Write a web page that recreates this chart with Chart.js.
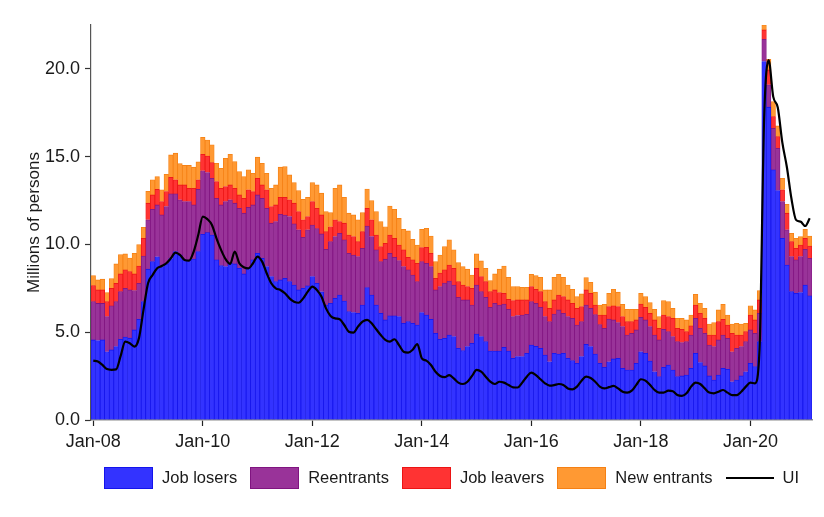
<!DOCTYPE html>
<html>
<head>
<meta charset="utf-8">
<title>Unemployed persons by reason and UI recipients</title>
<script src="https://cdn.jsdelivr.net/npm/chart.js@4.4.1/dist/chart.umd.min.js"></script>
<style>
  html, body { margin: 0; padding: 0; background: #fff; }
  #wrap { position: relative; width: 824px; height: 517px; }
  #chart { position: absolute; left: 0; top: 0; }
  #legend {
    position: absolute; left: 104px; top: 466px; height: 23px;
    display: flex; align-items: center; white-space: nowrap;
    font-family: "Liberation Sans", Arial, sans-serif; font-size: 16.5px; color: #1a1a1a;
  }
  .item { display: flex; align-items: center; margin-right: 13px; flex: none; }
  .swatch { width: 49px; height: 22px; box-sizing: border-box; border: 1px solid; margin-right: 9px; flex: none; }
  .stroke { width: 48px; height: 0; border-top: 2.5px solid #000; margin-right: 9px; flex: none; }
</style>
</head>
<body>
<div id="wrap">
  <canvas id="chart" width="824" height="517"></canvas>
  <div id="legend"></div>
</div>
<script>
// Monthly data, Jan-08 .. Feb-21, millions of persons
const jobLosers = [
  4.56, 4.53, 4.56, 3.89, 3.99, 4.18, 4.60, 4.72, 4.66, 5.13, 5.74, 6.74,
  8.59, 9.02, 9.30, 8.74, 8.89, 9.20, 9.59, 9.40, 9.12, 9.10, 9.17, 9.59,
  10.58, 10.67, 10.54, 9.12, 8.79, 8.74, 8.93, 8.89, 8.64, 8.32, 8.64, 9.12,
  9.50, 9.21, 8.74, 8.17, 7.88, 7.98, 8.07, 7.88, 7.69, 7.41, 7.50, 7.64,
  8.17, 7.79, 7.30, 6.55, 6.65, 6.93, 7.12, 6.78, 6.17, 6.12, 6.08, 6.55,
  7.54, 7.12, 6.55, 6.08, 5.70, 5.93, 5.93, 5.89, 5.51, 5.60, 5.51, 5.41,
  6.12, 5.98, 5.74, 4.94, 4.60, 4.65, 4.84, 4.75, 4.08, 3.95, 4.18, 4.37,
  4.90, 4.75, 4.46, 3.93, 3.93, 3.93, 4.14, 3.93, 3.51, 3.61, 3.61, 3.80,
  4.27, 4.20, 4.08, 3.70, 3.32, 3.80, 3.76, 3.80, 3.51, 3.38, 3.23, 3.61,
  4.31, 4.18, 3.76, 3.23, 3.00, 3.32, 3.48, 3.51, 2.94, 2.85, 2.85, 3.23,
  3.89, 3.80, 3.36, 2.75, 2.47, 3.00, 3.13, 2.85, 2.47, 2.51, 2.56, 2.94,
  3.80, 3.27, 3.08, 2.51, 2.28, 2.56, 2.94, 2.89, 2.18, 2.28, 2.51, 2.75,
  3.23, 3.04, 4.46, 20.42, 17.82, 14.25, 13.07, 10.35, 8.83, 7.31, 7.22, 7.26,
  7.69, 7.07
];

const reentrants = [
  2.18, 2.11, 2.08, 2.00, 2.51, 2.56, 2.71, 2.78, 2.75, 2.24, 2.05, 2.60,
  2.81, 2.98, 2.95, 2.94, 3.27, 3.68, 3.29, 3.14, 3.32, 3.34, 3.08, 3.55,
  3.62, 3.43, 3.23, 3.51, 3.46, 3.70, 3.61, 3.46, 3.42, 3.46, 3.48, 3.13,
  3.32, 3.42, 3.32, 3.04, 3.42, 3.74, 3.60, 3.71, 3.48, 3.42, 2.91, 3.19,
  2.94, 3.11, 3.30, 3.17, 3.51, 3.52, 3.52, 3.48, 3.33, 3.28, 3.23, 3.23,
  3.51, 3.33, 3.14, 2.94, 3.46, 3.57, 3.34, 3.19, 3.23, 2.95, 2.75, 2.47,
  2.90, 2.95, 3.00, 2.47, 3.00, 3.15, 3.08, 2.94, 2.91, 2.89, 2.66, 2.18,
  2.79, 2.56, 2.53, 2.49, 2.72, 2.62, 2.46, 2.38, 2.38, 2.34, 2.37, 2.22,
  2.47, 2.45, 2.34, 2.19, 2.28, 2.24, 2.51, 2.28, 2.38, 2.41, 2.18, 1.99,
  2.24, 2.18, 2.24, 2.20, 2.22, 2.43, 2.22, 2.04, 2.38, 1.99, 2.09, 1.90,
  1.96, 1.90, 1.96, 2.09, 2.09, 2.17, 1.90, 1.90, 1.99, 1.90, 1.90, 1.90,
  1.99, 1.95, 1.86, 1.76, 1.90, 2.00, 1.90, 1.76, 1.71, 1.80, 1.67, 1.71,
  1.90, 1.90, 1.62, 1.27, 1.27, 2.37, 2.41, 2.09, 2.00, 2.00, 1.90, 2.05,
  2.03, 2.14
];

const jobLeavers = [
  0.91, 0.77, 0.77, 0.85, 1.00, 1.05, 1.01, 1.05, 1.04, 0.95, 0.98, 1.01,
  0.95, 0.82, 0.89, 0.76, 0.85, 0.95, 0.80, 0.85, 0.95, 0.76, 0.95, 0.54,
  0.94, 0.94, 0.89, 0.95, 0.95, 0.86, 0.85, 0.85, 0.76, 0.85, 0.99, 0.76,
  0.95, 0.76, 1.05, 0.95, 0.95, 0.97, 1.02, 0.95, 1.18, 1.04, 0.99, 0.76,
  1.33, 1.16, 1.08, 1.01, 0.85, 0.95, 0.66, 0.95, 1.04, 1.05, 0.85, 0.95,
  1.01, 0.95, 0.85, 0.86, 0.91, 1.04, 1.08, 0.89, 0.95, 0.72, 0.86, 1.05,
  0.80, 0.91, 0.76, 0.66, 0.77, 0.75, 0.91, 0.95, 0.89, 0.85, 0.76, 0.95,
  0.95, 0.86, 0.89, 0.89, 0.76, 0.71, 0.62, 0.57, 0.91, 0.89, 0.86, 0.82,
  0.86, 0.80, 0.89, 0.85, 0.76, 0.80, 0.85, 0.95, 0.95, 0.86, 0.95, 0.86,
  0.86, 0.86, 0.55, 0.55, 0.76, 0.71, 0.80, 0.91, 0.57, 0.76, 0.66, 0.57,
  0.76, 0.72, 0.76, 0.86, 0.66, 0.81, 0.86, 1.04, 0.76, 0.76, 0.57, 0.52,
  0.76, 0.86, 0.85, 0.57, 0.66, 1.04, 0.90, 0.76, 1.05, 0.76, 0.66, 0.57,
  0.85, 0.76, 0.76, 0.53, 0.85, 0.66, 0.66, 0.67, 0.95, 0.85, 0.66, 0.66,
  0.63, 0.70
];

const newEntrants = [
  0.57, 0.57, 0.61, 0.52, 0.55, 1.10, 1.10, 0.91, 0.78, 1.18, 1.22, 0.63,
  0.68, 0.86, 0.72, 0.67, 0.99, 1.27, 1.52, 1.21, 1.11, 1.30, 1.20, 1.02,
  0.96, 0.91, 1.01, 1.04, 1.14, 1.61, 1.75, 1.52, 1.33, 1.24, 1.14, 1.04,
  1.20, 1.23, 0.94, 1.04, 1.14, 1.71, 1.74, 1.42, 1.17, 1.20, 1.17, 1.10,
  1.08, 1.33, 1.24, 1.14, 0.80, 1.80, 2.09, 1.48, 1.24, 1.23, 1.24, 1.08,
  1.10, 1.10, 1.33, 1.42, 0.94, 1.65, 1.65, 1.52, 1.17, 1.50, 1.17, 1.04,
  1.04, 1.08, 0.98, 0.95, 1.03, 1.33, 1.43, 1.05, 1.08, 1.05, 0.99, 0.76,
  0.82, 0.89, 0.76, 0.63, 0.91, 1.33, 1.55, 1.25, 0.80, 0.76, 0.72, 0.72,
  0.70, 0.77, 0.82, 0.67, 1.05, 1.29, 1.18, 1.10, 0.85, 0.80, 0.67, 0.72,
  0.70, 0.62, 0.73, 0.57, 0.61, 0.76, 0.95, 0.82, 0.70, 0.71, 0.71, 0.61,
  0.61, 0.61, 0.61, 0.61, 0.67, 0.82, 0.85, 0.57, 0.57, 0.62, 0.67, 0.62,
  0.61, 0.57, 0.57, 0.63, 0.71, 0.67, 0.85, 0.57, 0.53, 0.67, 0.63, 0.48,
  0.53, 0.57, 0.53, 0.28, 0.61, 0.86, 0.61, 0.66, 0.51, 0.48, 0.57, 0.48,
  0.51, 0.57
];

const ui = [
  3.38, 3.33, 3.14, 2.90, 2.86, 2.88, 3.65, 4.46, 4.37, 4.18, 4.65, 6.27,
  7.79, 8.26, 8.64, 8.77, 8.93, 9.21, 9.53, 9.40, 9.12, 9.08, 9.59, 10.54,
  11.59, 11.44, 11.11, 10.35, 9.69, 9.16, 8.89, 9.59, 8.93, 8.70, 8.64, 8.93,
  9.31, 9.02, 8.36, 7.79, 7.50, 7.41, 7.22, 6.93, 6.74, 6.68, 6.93, 7.31,
  7.60, 7.41, 7.03, 6.36, 5.93, 5.79, 5.74, 5.41, 5.03, 4.98, 5.32, 5.60,
  5.70, 5.51, 5.17, 4.84, 4.56, 4.46, 4.60, 4.27, 3.89, 3.84, 4.00, 4.33,
  3.51, 3.38, 3.13, 2.75, 2.51, 2.44, 2.56, 2.37, 2.13, 2.05, 2.18, 2.51,
  2.85, 2.75, 2.47, 2.18, 2.05, 2.18, 2.13, 1.99, 1.86, 1.85, 2.13, 2.47,
  2.70, 2.56, 2.32, 2.09, 1.96, 1.99, 2.05, 2.00, 1.80, 1.75, 1.90, 2.24,
  2.47, 2.39, 2.18, 1.90, 1.80, 1.87, 1.94, 1.80, 1.61, 1.56, 1.67, 2.00,
  2.32, 2.24, 2.00, 1.71, 1.56, 1.56, 1.67, 1.64, 1.42, 1.37, 1.52, 1.90,
  2.13, 2.05, 1.80, 1.56, 1.52, 1.61, 1.71, 1.56, 1.42, 1.42, 1.61, 1.90,
  2.13, 2.09, 4.00, 17.10, 20.50, 18.42, 17.80, 15.80, 14.40, 12.60, 11.40, 11.30,
  11.05, 11.49
];

const tickLabels = ['Jan-08', 'Jan-10', 'Jan-12', 'Jan-14', 'Jan-16', 'Jan-18', 'Jan-20'];
const yTicks = [0, 5, 10, 15, 20];

// month categories
const monthNames = ['Jan', 'Feb', 'Mar', 'Apr', 'May', 'Jun', 'Jul', 'Aug', 'Sep', 'Oct', 'Nov', 'Dec'];
const months = jobLosers.map((_, i) => {
  const yy = (8 + Math.floor(i / 12)) % 100;
  return monthNames[i % 12] + '-' + String(yy).padStart(2, '0');
});

const FONT = '"Liberation Sans", Arial, sans-serif';

const series = [
  { label: 'Job losers',   data: jobLosers,   fill: 'rgb(51,51,255)',  edge: 'rgb(20,20,235)' },
  { label: 'Reentrants',   data: reentrants,  fill: 'rgb(153,51,153)', edge: 'rgb(128,20,128)' },
  { label: 'Job leavers',  data: jobLeavers,  fill: 'rgb(255,51,51)',  edge: 'rgb(235,20,20)' },
  { label: 'New entrants', data: newEntrants, fill: 'rgb(255,153,51)', edge: 'rgb(245,128,20)' }
];

const datasets = series.map(s => ({
  type: 'bar',
  label: s.label,
  data: s.data,
  backgroundColor: s.fill,
  borderColor: s.edge,
  borderWidth: 0.8,
  categoryPercentage: 1.0,
  barPercentage: 1.0,
  stack: 'reasons'
}));

datasets.push({
  type: 'line',
  label: 'UI',
  data: ui,
  borderColor: '#000',
  borderWidth: 2.2,
  pointRadius: 0,
  cubicInterpolationMode: 'monotone',
  fill: false,
  stack: 'ui',
  order: -1
});

new Chart(document.getElementById('chart'), {
  type: 'bar',
  data: { labels: months, datasets: datasets },
  options: {
    responsive: false,
    animation: false,
    layout: { padding: { left: 0, right: 12, top: 25, bottom: 0 } },
    plugins: {
      legend: { display: false },
      tooltip: { enabled: false }
    },
    scales: {
      x: {
        stacked: true,
        offset: true,
        afterFit: scale => { scale.height = 97; },
        border: { display: true, color: '#8a8a8a', width: 1.5 },
        grid: {
          display: true,
          drawOnChartArea: false,
          offset: false,
          tickLength: 6,
          tickColor: '#222',
          tickWidth: 1.2
        },
        ticks: {
          autoSkip: false,
          maxRotation: 0,
          padding: 5,
          color: '#1a1a1a',
          font: { family: FONT, size: 18 },
          callback: function(value, index) {
            const lbl = months[index];
            return tickLabels.includes(lbl) ? lbl : null;
          }
        }
      },
      y: {
        stacked: true,
        min: 0,
        max: 22.5,
        afterFit: scale => { scale.width = 91; },
        afterBuildTicks: scale => { scale.ticks = yTicks.map(v => ({ value: v })); },
        border: { display: true, color: '#555', width: 1.2 },
        grid: {
          display: true,
          drawOnChartArea: false,
          tickLength: 6,
          tickColor: '#333',
          tickWidth: 1.2
        },
        ticks: {
          padding: 5,
          color: '#1a1a1a',
          font: { family: FONT, size: 18 },
          callback: v => Number(v).toFixed(1)
        },
        title: {
          display: true,
          text: 'Millions of persons',
          color: '#1a1a1a',
          font: { family: FONT, size: 17 },
          padding: { top: 24, bottom: 0 }
        }
      }
    }
  }
});

// Legend
const legend = document.getElementById('legend');
series.forEach(s => {
  const item = document.createElement('div');
  item.className = 'item';
  item.innerHTML = `<span class="swatch" style="background:${s.fill};border-color:${s.edge}"></span><span>${s.label}</span>`;
  legend.appendChild(item);
});
const uiItem = document.createElement('div');
uiItem.className = 'item';
uiItem.innerHTML = '<span class="stroke"></span><span>UI</span>';
legend.appendChild(uiItem);
</script>
</body>
</html>
